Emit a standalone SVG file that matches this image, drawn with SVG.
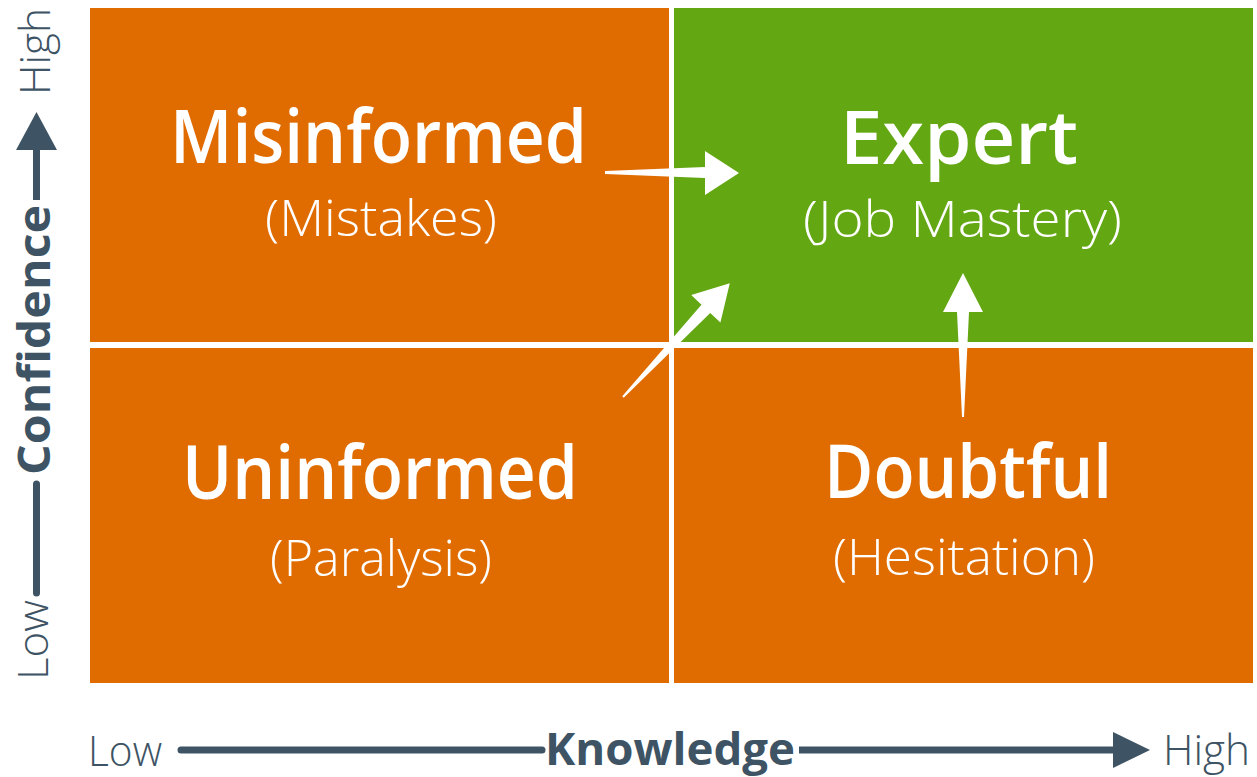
<svg xmlns="http://www.w3.org/2000/svg" width="1257" height="777" viewBox="0 0 1257 777">
  <style>
    .quad-warn { fill: #E06C00; }
    .quad-good { fill: #63A713; }
    .title { font-family: "Open Sans", "Liberation Sans", sans-serif; font-weight: 600; font-size: 74px; fill: #FFFFFF; }
    .sub { font-family: "Open Sans", "Liberation Sans", sans-serif; font-weight: 300; font-size: 50px; fill: #FFFFFF; }
    .axis-label { font-family: "Open Sans", "Liberation Sans", sans-serif; font-weight: 300; font-size: 43px; fill: #3E5464; }
    .axis-name { font-family: "Open Sans", "Liberation Sans", sans-serif; font-weight: 700; font-size: 45px; fill: #3E5464; }
    .axis-line { stroke: #3E5464; stroke-width: 7; fill: none; }
    .axis-head { fill: #3E5464; }
    .flow { fill: #FFFFFF; }
  </style>

  <rect x="0" y="0" width="1257" height="777" fill="#FFFFFF"/>

  <!-- Quadrants -->
  <g id="misinformed">
    <rect class="quad-warn" x="90" y="8" width="579" height="334"/>
    <text class="title" x="170" y="163" textLength="417" lengthAdjust="spacingAndGlyphs">Misinformed</text>
    <text class="sub" x="265" y="236" textLength="232" lengthAdjust="spacingAndGlyphs">(Mistakes)</text>
  </g>

  <g id="expert">
    <rect class="quad-good" x="674" y="8" width="579" height="334"/>
    <text class="title" x="840" y="164" textLength="238" lengthAdjust="spacingAndGlyphs">Expert</text>
    <text class="sub" x="803" y="237" textLength="319" lengthAdjust="spacingAndGlyphs">(Job Mastery)</text>
  </g>

  <g id="uninformed">
    <rect class="quad-warn" x="90" y="348" width="579" height="335"/>
    <text class="title" x="182" y="499" textLength="396" lengthAdjust="spacingAndGlyphs">Uninformed</text>
    <text class="sub" x="270" y="576" textLength="222" lengthAdjust="spacingAndGlyphs">(Paralysis)</text>
  </g>

  <g id="doubtful">
    <rect class="quad-warn" x="674" y="348" width="579" height="335"/>
    <text class="title" x="824" y="498" textLength="288" lengthAdjust="spacingAndGlyphs">Doubtful</text>
    <text class="sub" x="833" y="575" textLength="262" lengthAdjust="spacingAndGlyphs">(Hesitation)</text>
  </g>

  <!-- Transitions toward Expert: tapered white arrows -->
  <g id="connectors">
    <!-- Misinformed -> Expert -->
    <polygon class="flow" points="605,171 705,167 705,151 739,173 705,195 705,178 605,174"/>
    <!-- Uninformed -> Expert (diagonal) -->
    <polygon class="flow" transform="translate(623,397) rotate(-46.8)" points="0,-1 121,-6 121,-20 156,0 121,20 121,6 0,1"/>
    <!-- Doubtful -> Expert -->
    <polygon class="flow" transform="translate(963,417) rotate(-90)" points="0,-1 105,-6 105,-20 144,0 105,20 105,6 0,1"/>
  </g>

  <!-- Horizontal axis: Knowledge -->
  <g id="axis-knowledge">
    <text class="axis-label" x="88" y="766" textLength="74" lengthAdjust="spacingAndGlyphs">Low</text>
    <line class="axis-line" x1="181" y1="750" x2="542" y2="750" stroke-linecap="round"/>
    <text class="axis-name" x="545" y="765" textLength="250" lengthAdjust="spacingAndGlyphs">Knowledge</text>
    <line class="axis-line" x1="799" y1="750" x2="1116" y2="750"/>
    <polygon class="axis-head" points="1113,732 1150,750 1113,768"/>
    <text class="axis-label" x="1163" y="765" textLength="87" lengthAdjust="spacingAndGlyphs">High</text>
  </g>

  <!-- Vertical axis: Confidence -->
  <g id="axis-confidence">
    <text class="axis-label" transform="translate(48,680) rotate(-90)" x="0" y="0" textLength="80" lengthAdjust="spacingAndGlyphs">Low</text>
    <line class="axis-line" x1="36.5" y1="593" x2="36.5" y2="484" stroke-linecap="round"/>
    <text class="axis-name" transform="translate(50,475) rotate(-90)" x="0" y="0" textLength="270" lengthAdjust="spacingAndGlyphs">Confidence</text>
    <line class="axis-line" x1="36.5" y1="200" x2="36.5" y2="147"/>
    <polygon class="axis-head" points="16,150 36.5,112 57,150"/>
    <text class="axis-label" transform="translate(50,95) rotate(-90)" x="0" y="0" textLength="87" lengthAdjust="spacingAndGlyphs">High</text>
  </g>
</svg>
